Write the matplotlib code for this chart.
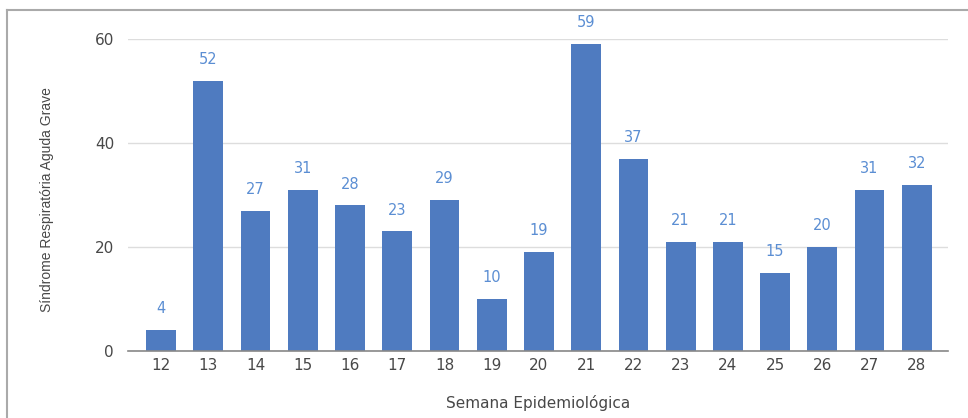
import matplotlib.pyplot as plt
from matplotlib.lines import Line2D

plt.rcParams['font.family'] = ['DejaVu Sans']

# ---------------------------------------------------------------------------
# Data
# ---------------------------------------------------------------------------
semanas = ["12", "13", "14", "15", "16", "17", "18", "19", "20",
           "21", "22", "23", "24", "25", "26", "27", "28"]
casos = [4, 52, 27, 31, 28, 23, 29, 10, 19, 59, 37, 21, 21, 15, 20, 31, 32]
yticks = [0, 20, 40, 60]

bar_color = "#4F7BC0"
label_color = "#5B8ED3"
text_color = "#484848"

fig = plt.figure(figsize=(9.68, 4.18), dpi=100)
ax = fig.add_axes([128 / 968, 67 / 418, 820 / 968, 312 / 418])

x = list(range(len(semanas)))
ax.bar(x, casos, width=0.63, color=bar_color, zorder=3)

for xi, v in zip(x, casos):
    ax.annotate(str(v), (xi, v), xytext=(0, 10), textcoords="offset points",
                ha="center", va="bottom", fontsize=10.5,
                color=label_color, clip_on=False)

ax.set_xlim(-0.7, len(semanas) - 0.34)
ax.set_ylim(0, 60)
ax.set_xticks(x)
ax.set_xticklabels(semanas)
ax.set_yticks(yticks)

ax.grid(axis="y", color="#dddddd", lw=1, zorder=0)
for s in ["top", "right", "left"]:
    ax.spines[s].set_visible(False)
ax.spines["bottom"].set_color("#888888")
ax.spines["bottom"].set_linewidth(1.2)
ax.spines["bottom"].set_zorder(4)
ax.tick_params(length=0, labelsize=11, colors=text_color)
ax.tick_params(axis="y", pad=10)
ax.tick_params(axis="x", pad=5)

ax.set_xlabel("Semana Epidemiológica", fontsize=11, color=text_color, labelpad=16)
fig.text(47 / 968, 1 - 200 / 418, "Síndrome Respiratória Aguda Grave",
         rotation=90, ha="center", va="center", fontsize=10, color=text_color,
         family="Liberation Sans")

# frame of the screenshot
fig.add_artist(Line2D([7 / 968, 1], [1 - 10 / 418, 1 - 10 / 418],
                      color="#aaaaaa", lw=1.5))
fig.add_artist(Line2D([7 / 968, 7 / 968], [0, 1 - 10 / 418],
                      color="#aaaaaa", lw=1.5))

fig.savefig("out.png", dpi=100)
